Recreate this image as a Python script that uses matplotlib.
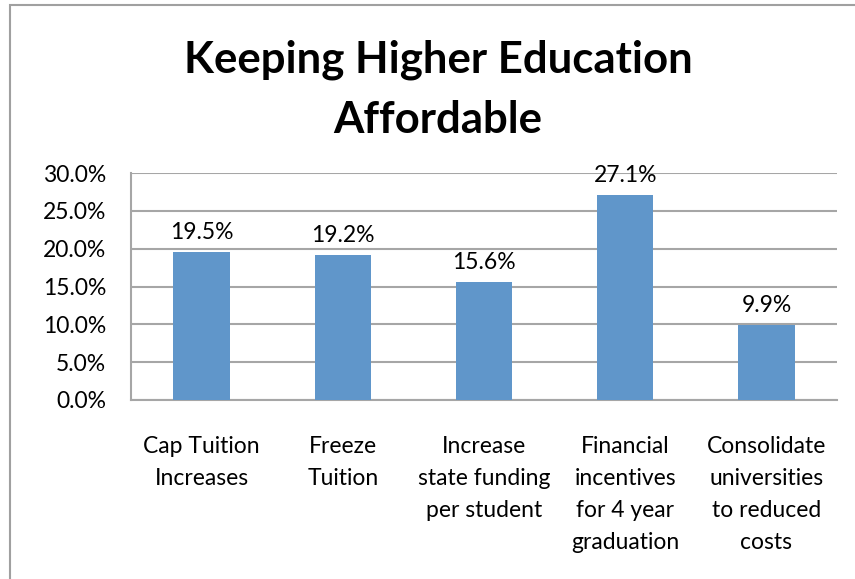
import matplotlib.pyplot as plt
from matplotlib.patches import Rectangle
from matplotlib.ticker import PercentFormatter

plt.rcParams['font.family'] = ['Lato', 'DejaVu Sans']

# survey results
categories = [
    "Cap Tuition\nIncreases",
    "Freeze\nTuition",
    "Increase\nstate funding\nper student",
    "Financial\nincentives\nfor 4 year\ngraduation",
    "Consolidate\nuniversities\nto reduced\ncosts",
]
shares = [19.5, 19.2, 15.6, 27.1, 9.9]
y_ticks = [0, 5, 10, 15, 20, 25, 30]

bar_color = '#6096CA'
grid_color = '#A6A6A6'
fs = 16.5

fig = plt.figure(figsize=(8.55, 5.79), dpi=100)

# chart area border (runs off the right and bottom edge)
fig.patches.append(Rectangle((10 / 855, -0.05), 1.0, 1 - 5 / 579 + 0.05,
                             transform=fig.transFigure, fill=False,
                             edgecolor='#A0A0A0', linewidth=1.5))

ax = fig.add_axes([131 / 855, 1 - 400 / 579, 706 / 855, 227 / 579])
x = range(len(categories))
ax.bar(x, shares, width=0.4, color=bar_color, zorder=3)

for xi, v in zip(x, shares):
    ax.text(xi, v + 1.2, f'{v:.1f}%', ha='center', va='bottom',
            fontsize=fs, zorder=4)

ax.set_xlim(-0.5, len(categories) - 0.5)
ax.set_ylim(0, 30)
ax.set_yticks(y_ticks)
ax.yaxis.set_major_formatter(PercentFormatter(decimals=1))
ax.set_xticks(list(x))
ax.set_xticklabels(categories, fontsize=fs, linespacing=1.65, va='top')
ax.tick_params(axis='both', length=0, labelsize=fs)
ax.tick_params(axis='x', pad=26)
ax.tick_params(axis='y', pad=18)

ax.grid(axis='y', color=grid_color, linewidth=1.5, zorder=0)
for side in ['top', 'right']:
    ax.spines[side].set_visible(False)
for side in ['left', 'bottom']:
    ax.spines[side].set_color(grid_color)
    ax.spines[side].set_linewidth(1.5)

fig.text(438 / 855, 1 - 90 / 579, 'Keeping Higher Education\nAffordable',
         ha='center', va='center', fontsize=31.5, fontweight='bold',
         linespacing=1.6)

fig.savefig('out.png', dpi=100)
